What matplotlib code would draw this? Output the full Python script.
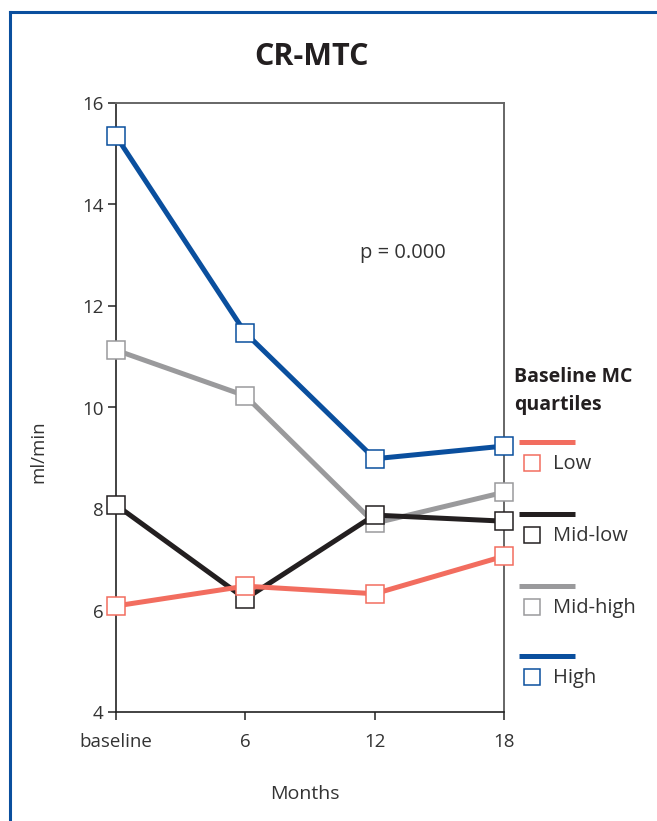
import matplotlib
matplotlib.use("Agg")
import matplotlib.pyplot as plt
from matplotlib.lines import Line2D

plt.rcParams['font.family'] = ['Open Sans', 'DejaVu Sans']

months = [0, 6, 12, 18]
tick_labels = ["baseline", "6", "12", "18"]
series_names = ["Low", "Mid-low", "Mid-high", "High"]
low = [6.09, 6.48, 6.33, 7.07]
mid_low = [8.08, 6.23, 7.88, 7.76]
mid_high = [11.13, 10.23, 7.72, 8.33]
high = [15.35, 11.47, 8.99, 9.24]
colors = {"Low": "#f26d5f", "Mid-low": "#231f20", "Mid-high": "#9a9a9c", "High": "#0a4f9e"}
values = {"Low": low, "Mid-low": mid_low, "Mid-high": mid_high, "High": high}
zorders = {"Mid-high": 3, "Mid-low": 4, "Low": 5, "High": 6}

fig = plt.figure(figsize=(6.57, 8.21), dpi=100)
ax = fig.add_axes([116/657, 1-712/821, 388/657, 609/821])

for name in series_names:
    c = colors[name]
    ax.plot(months, values[name], color=c, lw=3.6, marker='s', markersize=12.5,
            markerfacecolor='white', markeredgecolor=c, markeredgewidth=1.1,
            zorder=zorders[name], clip_on=False, solid_capstyle='butt')

ax.set_xlim(0, 18)
ax.set_ylim(4, 16)
ax.set_xticks(months)
ax.set_xticklabels(tick_labels)
ax.set_yticks([4, 6, 8, 10, 12, 14, 16])
ax.tick_params(axis='both', labelsize=13.5, colors='#333333', length=6, width=1.2,
               direction='out')
ax.tick_params(axis='x', pad=9)
ax.tick_params(axis='y', pad=3)
for s in ['left', 'bottom']:
    ax.spines[s].set_color('#222222')
    ax.spines[s].set_linewidth(1.2)
for s in ['right', 'top']:
    ax.spines[s].set_color('#666666')
    ax.spines[s].set_linewidth(1.4)

ax.set_xlabel("Months", fontsize=14, color='#333333')
ax.xaxis.set_label_coords((305-116)/388, -(785-712)/609)
ax.set_ylabel("ml/min", fontsize=13.5, color='#333333')
ax.yaxis.set_label_coords(-(116-47)/388, (712-452)/609)
ax.text(13.3, 13.05, "p = 0.000", fontsize=14.5, color='#333333', ha='center', va='center')

fig.text(311/657, 1-57/821, "CR-MTC", fontsize=22, fontweight='bold', color='#231f20',
         ha='center', va='center')

# frame
fig.add_artist(Line2D([10/657, 10/657], [0, 1-12/821], color='#0a4f9e', lw=2.2, transform=fig.transFigure))
fig.add_artist(Line2D([10/657, 1.0], [1-12/821, 1-12/821], color='#0a4f9e', lw=2.2, transform=fig.transFigure))

# legend
fig.text(514/657, 1-391/821, "Baseline MC\nquartiles", fontsize=14, fontweight='bold',
         color='#231f20', ha='left', va='center', linespacing=1.55)
line_y = [442, 514, 586, 656]
for name, ly in zip(series_names, line_y):
    c = colors[name]
    fig.add_artist(Line2D([519/657, 575/657], [1-ly/821, 1-ly/821], color=c, lw=3.6,
                          transform=fig.transFigure, solid_capstyle='butt'))
    sy = ly + 21
    fig.add_artist(Line2D([532/657], [1-sy/821], marker='s', markersize=11, color=c,
                          markerfacecolor='white', markeredgecolor=c, markeredgewidth=1.1,
                          transform=fig.transFigure))
    fig.text(553/657, 1-(sy+1)/821, name, fontsize=14.5, color='#333333', ha='left', va='center')

fig.savefig("out.png", dpi=100)
